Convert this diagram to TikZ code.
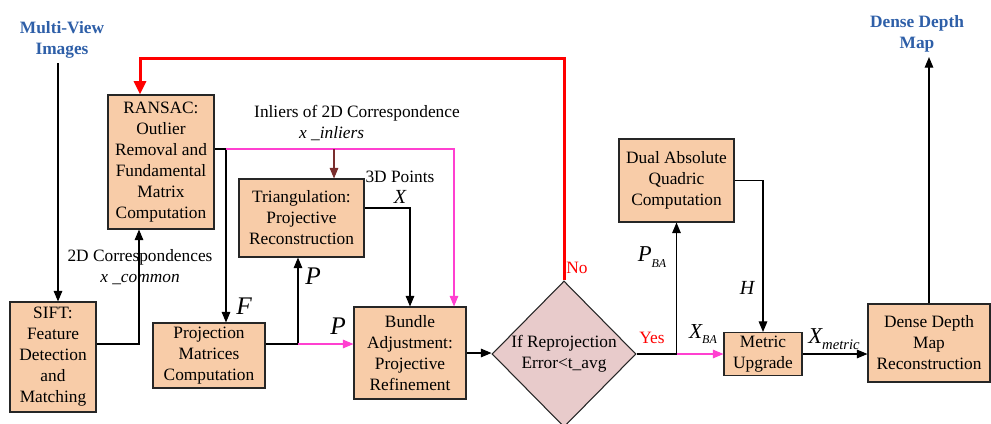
\documentclass[tikz,border=0pt]{standalone}
\usepackage{fontspec}
\setmainfont{Liberation Serif}
\usetikzlibrary{positioning}
\usetikzlibrary{arrows.meta}
\usetikzlibrary{shapes.geometric}
\definecolor{boxfill}{RGB}{248,204,168}
\definecolor{decfill}{RGB}{232,203,203}
\definecolor{titleblue}{RGB}{46,95,168}
\definecolor{pinkline}{RGB}{255,64,208}
\definecolor{brownline}{RGB}{122,46,46}

\begin{document}
\begin{tikzpicture}[x=0.75pt, y=-0.75pt,
    procbox/.style={draw=black!85, line width=0.8pt, fill=boxfill, align=center, inner sep=0pt, font=\fontsize{13}{15.75}\selectfont},
    title/.style={align=center, text=titleblue, font=\fontsize{13}{15.75}\selectfont\bfseries},
    lbl/.style={align=center, font=\fontsize{13}{15.75}\selectfont},
    sym/.style={font=\fontsize{19}{19}\selectfont\itshape, inner sep=0pt},
    arr/.style={-{Triangle[length=8pt, width=6.5pt]}, line width=0.8pt},
    redarr/.style={-{Triangle[length=10pt, width=9pt]}, line width=2.25pt, red, line join=miter}]
    \useasboundingbox (0,0) rectangle (991,424);

    % boxes
    \node[procbox, minimum width=64.5pt, minimum height=82.5pt] (sift) at (53,357) {SIFT:\\Feature\\Detection\\and\\Matching};
    \node[procbox, minimum width=79.5pt, minimum height=100.5pt] (ransac) at (161,162) {RANSAC:\\Outlier\\Removal and\\Fundamental\\Matrix\\Computation};
    \node[procbox, minimum width=84pt, minimum height=48.75pt] (proj) at (209,355.5) {Projection\\Matrices\\Computation};
    \node[procbox, minimum width=93.75pt, minimum height=58.5pt] (tri) at (301.5,218) {Triangulation:\\Projective\\Reconstruction};
    \node[procbox, minimum width=84pt, minimum height=69pt] (ba) at (410,353) {Bundle\\Adjustment:\\Projective\\Refinement};
    \node[draw=black!85, line width=0.8pt, fill=decfill, shape=diamond, minimum width=108pt, minimum height=109.5pt, inner sep=0pt] (check) at (564,354) {};
    \node[lbl] (checktext) at (check) {If Reprojection\\Error<t\_avg};
    \node[procbox, minimum width=86.25pt, minimum height=62.25pt] (daq) at (676.5,180.5) {Dual Absolute\\Quadric\\Computation};
    \node[procbox, minimum width=58.5pt, minimum height=32.25pt] (metric) at (763,354) {Metric\\Upgrade};
    \node[procbox, minimum width=91.5pt, minimum height=58.5pt] (dense) at (929,343) {Dense Depth\\Map\\Reconstruction};

    % input and output
    \node[title] (input) at (62,40) {Multi-View\\Images};
    \node[title] (output) at (917,34) {Dense Depth\\Map};

    % bends
    \coordinate (inx) at (58,0);
    \coordinate (b1) at (139,344);
    \coordinate (b2) at (226,149);
    \coordinate (b3) at (454,149);
    \coordinate (b4) at (334,149);
    \coordinate (b5) at (410,208);
    \coordinate (b6) at (298,344);
    \coordinate (b7) at (140,59);
    \coordinate (b8) at (check.east -| daq.south);

    % connectors
    \draw[arr] (input.south -| inx) -- (sift.north -| inx);
    \draw[arr] (sift.east |- b1) -| (ransac.south -| b1);
    \draw[arr] (ransac.east |- b2) -| (proj.north -| b2);
    \draw[arr, pinkline] (b2) -| (ba.north -| b3);
    \draw[arr, brownline] (b4) -- (tri.north -| b4);
    \draw[arr] (tri.east |- b5) -| (ba.north);
    \draw[arr] (proj.east |- b6) -| (tri.south -| b6);
    \draw[arr, pinkline] (b6) -- (ba.west |- b6);
    \draw[arr] (ba.east) -- (ba.east -| check.west);
    \draw[redarr] (check.north) |- (b7) -- (ransac.north -| b7);
    \draw[line width=0.8pt] (check.east) -- (b8);
    \draw[arr] (b8) -- (daq.south);
    \draw[arr, pinkline] (b8) -- (metric.west |- b8);
    \draw[arr] (daq.east) -| (metric.north);
    \draw[arr] (metric.east) -- (metric.east -| dense.west);
    \draw[arr] (dense.north) -- (output.south -| dense.north);

    % labels
    \node[lbl] (corr) at (140,267.5) {2D Correspondences\\\textit{x \_common}};
    \node[lbl] (inl) at (357,123) {Inliers of 2D Correspondence\\\textit{x \_inliers}\hspace*{38pt}};
    \node[lbl] (pts) at (400,187) {3D Points\\{\fontsize{15}{15}\selectfont\itshape X}};
    \node[sym] (labF) at (244,306) {F};
    \node[sym] (labP1) at (313,276) {P};
    \node[sym] (labP2) at (338,326) {P};
    \node[lbl, text=red] (no) at (577,268) {No};
    \node[lbl, text=red] (yes) at (652,338) {Yes};
    \node[inner sep=0pt] (pba) at (652,257) {{\fontsize{17}{17}\selectfont\itshape P}{\fontsize{9}{9}\selectfont\itshape\raisebox{-4pt}{BA}}};
    \node[inner sep=0pt] (xba) at (703,334) {{\fontsize{16}{16}\selectfont\itshape X}{\fontsize{9}{9}\selectfont\itshape\raisebox{-4pt}{BA}}};
    \node[inner sep=0pt] (labH) at (747,288) {\fontsize{15}{15}\selectfont\itshape H};
    \node[inner sep=0pt] (xmet) at (834,339) {{\fontsize{17}{17}\selectfont\itshape X}{\fontsize{11}{11}\selectfont\itshape\raisebox{-5pt}{metric}}};
\end{tikzpicture}
\end{document}
